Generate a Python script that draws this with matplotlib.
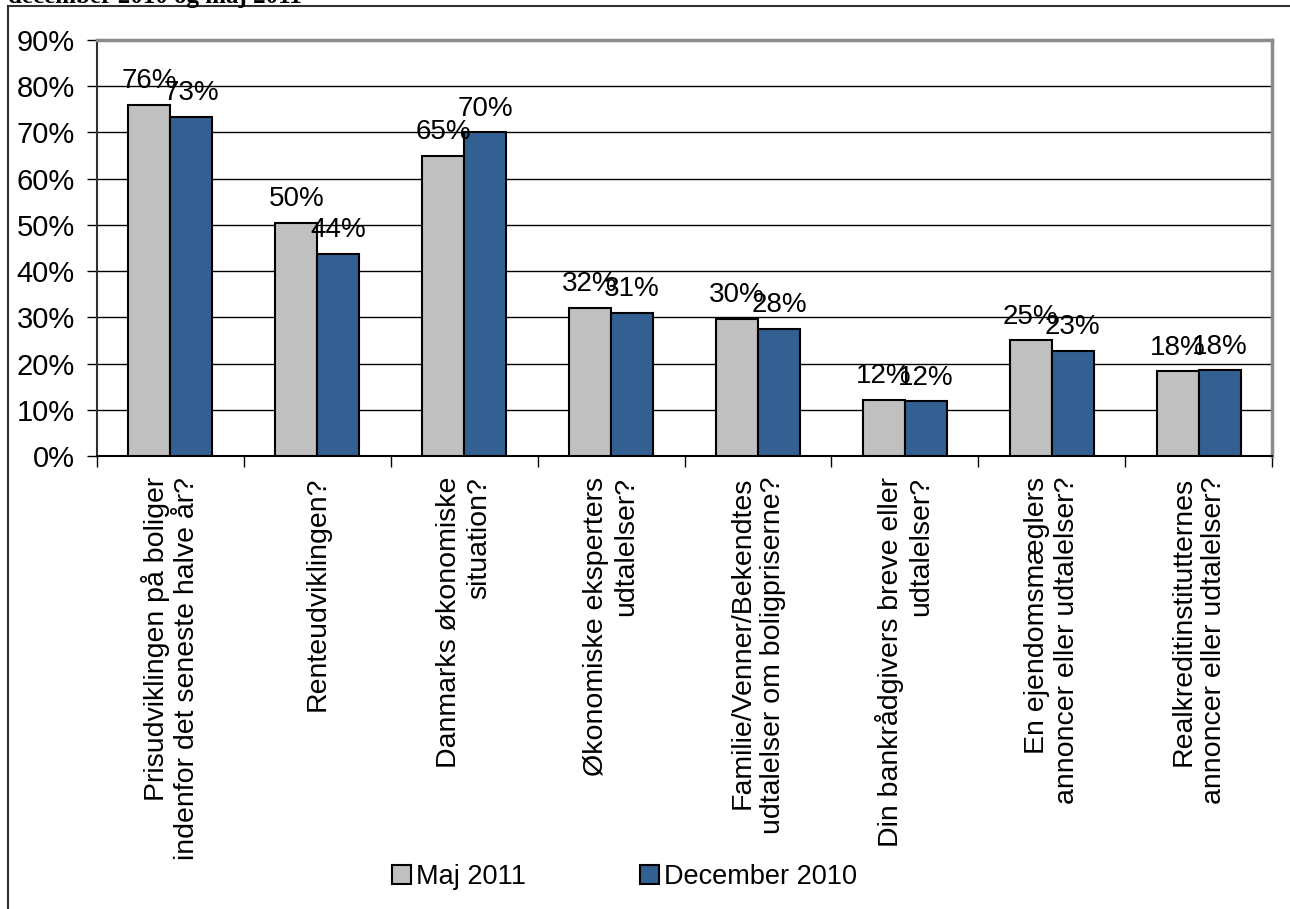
import matplotlib
matplotlib.use("Agg")
import matplotlib.pyplot as plt
import numpy as np
from matplotlib.lines import Line2D

plt.rcParams["font.family"] = ["Liberation Sans", "DejaVu Sans"]

CATEGORIES = [
    "Prisudviklingen på boliger\nindenfor det seneste halve år?",
    "Renteudviklingen?",
    "Danmarks økonomiske\nsituation?",
    "Økonomiske eksperters\nudtalelser?",
    "Familie/Venner/Bekendtes\nudtalelser om boligpriserne?",
    "Din bankrådgivers breve eller\nudtalelser?",
    "En ejendomsmæglers\nannoncer eller udtalelser?",
    "Realkreditinstitutternes\nannoncer eller udtalelser?",
]
SERIES_NAMES = ["Maj 2011", "December 2010"]
MAJ_2011 = [76.0, 50.4, 65.0, 32.0, 29.7, 12.2, 25.0, 18.3]
DEC_2010 = [73.4, 43.7, 70.0, 31.0, 27.5, 11.8, 22.8, 18.5]
COLORS = ["#C0C0C0", "#336092"]
Y_TICKS = [0, 10, 20, 30, 40, 50, 60, 70, 80, 90]

fig = plt.figure(figsize=(12.9, 9.09), dpi=100)
ax = fig.add_axes([97 / 1290, 1 - 456 / 909, (1272 - 97) / 1290, (456 - 40) / 909])

x = np.arange(len(CATEGORIES))
width = 0.286
bars = []
for k, (vals, color) in enumerate(zip([MAJ_2011, DEC_2010], COLORS)):
    offs = (k - 0.5) * width
    b = ax.bar(x + offs, vals, width, color=color, edgecolor="black",
               linewidth=1.5, zorder=3, label=SERIES_NAMES[k])
    bars.append(b)
    for xi, v in zip(x, vals):
        ax.annotate(f"{v:.0f}%", (xi + offs, v), xytext=(0, 12),
                    textcoords="offset points", ha="center", va="baseline",
                    fontsize=20, zorder=5)

ax.set_xlim(-0.5, len(CATEGORIES) - 0.5)
ax.set_ylim(0, 90)
ax.set_yticks(Y_TICKS, [f"{t}%" for t in Y_TICKS], fontsize=21)
ax.yaxis.grid(True, color="black", linewidth=1.0, zorder=0)
ax.set_axisbelow(True)
ax.tick_params(axis="y", length=7, width=1, direction="out", pad=9)

ax.set_xticks([])
ax.set_xticks(np.arange(len(CATEGORIES) + 1) - 0.5, minor=True)
ax.tick_params(axis="x", which="minor", length=8, width=1, direction="out",
               labelbottom=False)

for xi, label in zip(x, CATEGORIES):
    ax.annotate(label, (xi, 0), xytext=(0, -15), textcoords="offset points",
                rotation=90, ha="center", va="top", multialignment="right",
                fontsize=20.5, linespacing=1.2)

ax.spines["left"].set_color("#303030")
ax.spines["left"].set_linewidth(1.5)
ax.spines["bottom"].set_color("black")
ax.spines["bottom"].set_linewidth(1.5)
for side in ("top", "right"):
    ax.spines[side].set_color("#8C8C8C")
    ax.spines[side].set_linewidth(2.5)

fig.legend(handles=bars, labels=SERIES_NAMES, loc="center",
           bbox_to_anchor=(0.484, 1 - 877 / 909), ncol=2, frameon=False,
           fontsize=19.5, handlelength=0.7, handleheight=0.7, handletextpad=0.2,
           columnspacing=4.2)

# outer chart frame (left and top edges only, rest cropped)
fig.add_artist(Line2D([8 / 1290, 8 / 1290], [0, 1 - 6 / 909],
                      transform=fig.transFigure, color="#303030", linewidth=1.5))
fig.add_artist(Line2D([8 / 1290, 1], [1 - 6 / 909, 1 - 6 / 909],
                      transform=fig.transFigure, color="#303030", linewidth=1.5))

# title clipped at the top edge
fig.text(8 / 1290, 1 - 3 / 909, "december 2010 og maj 2011", ha="left",
         va="baseline", fontsize=18, fontweight="bold",
         family=["Liberation Serif", "DejaVu Serif"])

fig.savefig("out.png", dpi=100)
